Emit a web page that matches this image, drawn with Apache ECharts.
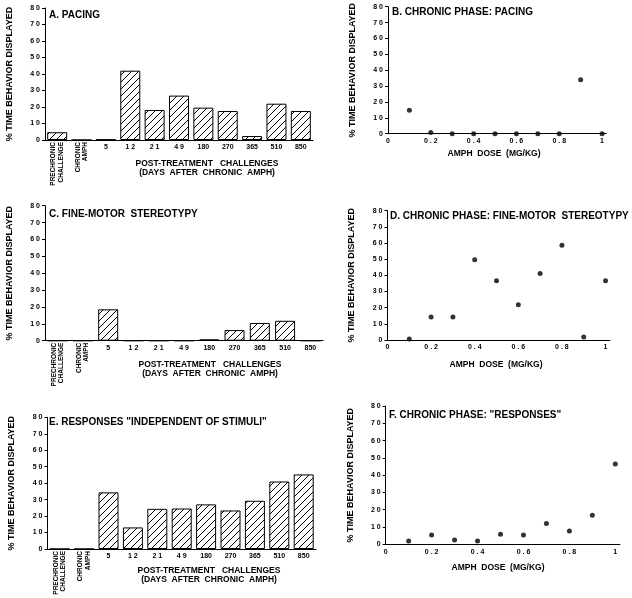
<!DOCTYPE html>
<html><head><meta charset="utf-8">
<script src="https://cdn.jsdelivr.net/npm/echarts@6/dist/echarts.min.js"></script>
<style>html,body{margin:0;padding:0;background:#fff}#c{width:632px;height:598px}</style>
</head><body><div id="c"></div>
<script>
// ---- data ----
const categories = ['PRECHRONIC\nCHALLENGE', 'CHRONIC\nAMPH', '5', '1 2', '2 1', '4 9', '180', '270', '365', '510', '850'];
const pacingBars = [4.7, 0, 0.3, 42, 18.2, 26.9, 19.6, 17.6, 2.4, 22, 17.6];
const fineMotorBars = [0, 0, 18.6, 0, 0, 0, 0.8, 6.3, 10.5, 11.8, 0];
const responsesBars = [0, 0, 34.4, 13.1, 24.4, 24.6, 27.1, 23.4, 29.3, 41, 45.3];
const doses = [0.1, 0.2, 0.3, 0.4, 0.5, 0.6, 0.7, 0.8, 0.9, 1.0];
const pacingDose = [14.7, 0.8, 0, 0, 0, 0, 0, 0, 34, 0];
const fineMotorDose = [0.6, 14.2, 14.2, 49.6, 36.6, 21.8, 41.2, 58.6, 1.9, 36.6];
const responsesDose = [1.9, 5.4, 2.5, 1.9, 5.8, 5.4, 12.1, 7.7, 16.8, 46.4];
const panelTitles = ['A. PACING', 'B. CHRONIC PHASE: PACING', 'C. FINE-MOTOR  STEREOTYPY',
  'D. CHRONIC PHASE: FINE-MOTOR  STEREOTYPY', 'E. RESPONSES "INDEPENDENT OF STIMULI"', 'F. CHRONIC PHASE: "RESPONSES"'];
const yName = '% TIME BEHAVIOR DISPLAYED';
const barXName = 'POST-TREATMENT   CHALLENGES\n(DAYS  AFTER  CHRONIC  AMPH)';
const doseName = 'AMPH  DOSE  (MG/KG)';

// ---- layout ----
const FF = '"Liberation Sans", Arial, Helvetica, sans-serif';
const grids = [
  {left: 45, top: 8, width: 268, height: 132},
  {left: 388, top: 6.7, width: 218.3, height: 127},
  {left: 45, top: 205.7, width: 278, height: 135},
  {left: 387.5, top: 210.7, width: 222.4, height: 129.3},
  {left: 47.5, top: 417.3, width: 268.4, height: 131.7},
  {left: 385.7, top: 406, width: 234.2, height: 138.3}
].map(g => Object.assign({containLabel: false, outerBoundsMode: 'none'}, g));

const titlePos = [[49, 15], [392, 12.7], [49, 214], [390, 216], [49, 422.7], [389, 415]];
const barNamePos = [[207, 168], [210, 369], [209, 575]];
const doseNamePos = [[494, 154], [496, 365], [498, 568]];

function spaced(v) { return String(v).split('').join(' '); }

function hatch() {
  const c = document.createElement('canvas');
  c.width = 7; c.height = 7;
  const g = c.getContext('2d');
  g.strokeStyle = '#000'; g.lineWidth = 1;
  g.beginPath(); g.moveTo(-1, 8); g.lineTo(8, -1); g.stroke();
  return c;
}
const pattern = {image: hatch(), repeat: 'repeat'};

const xAxes = [], yAxes = [], series = [];
const barSets = [pacingBars, fineMotorBars, responsesBars];
const doseSets = [pacingDose, fineMotorDose, responsesDose];

for (let i = 0; i < 6; i++) {
  const isBar = i % 2 === 0;
  yAxes.push({
    type: 'value', gridIndex: i, min: 0, max: 80, interval: 10,
    name: yName, nameLocation: 'middle', nameRotate: 90, nameGap: 31,
    nameTextStyle: {fontFamily: FF, fontWeight: 'bold', fontSize: 9, color: '#000'},
    axisLine: {show: true, lineStyle: {color: '#000', width: 1}},
    axisTick: {show: true, inside: false, length: 3, lineStyle: {color: '#000'}},
    axisLabel: {formatter: spaced, fontFamily: FF, fontWeight: 'bold', fontSize: 7, color: '#000', margin: 5},
    splitLine: {show: false}
  });
  if (isBar) {
    const main = xAxes.length;
    xAxes.push({
      type: 'category', gridIndex: i, data: categories, position: 'bottom',
      axisLine: {lineStyle: {color: '#000', width: 1.2}},
      axisTick: {show: false},
      axisLabel: {interval: 0, margin: 4, fontFamily: FF, fontWeight: 'bold', fontSize: 7, color: '#000',
        formatter: (v, idx) => idx < 2 ? '' : v}
    });
    xAxes.push({
      type: 'category', gridIndex: i, data: categories, position: 'bottom',
      axisLine: {show: false}, axisTick: {show: false},
      axisLabel: {interval: 0, rotate: 90, margin: 2, fontFamily: FF, fontWeight: 'bold', fontSize: 6.5, lineHeight: 7.5, color: '#000',
        formatter: (v, idx) => idx < 2 ? v : ''}
    });
    series.push({
      type: 'bar', xAxisIndex: main, yAxisIndex: i, data: barSets[i / 2], barWidth: 20,
      itemStyle: {color: pattern, borderColor: '#000', borderWidth: 1},
      silent: true, animation: false
    });
  } else {
    const idx = xAxes.length;
    xAxes.push({
      type: 'value', gridIndex: i, min: 0, max: 1.02, interval: 0.2,
      axisLine: {lineStyle: {color: '#000', width: 1.2}},
      axisTick: {show: false}, splitLine: {show: false},
      axisLabel: {showMaxLabel: false, formatter: v => (Math.abs(v * 5 - Math.round(v * 5)) < 1e-6 ? spaced(+v.toFixed(1)) : ''),
        fontFamily: FF, fontWeight: 'bold', fontSize: 7, color: '#000', margin: 4}
    });
    const vals = doseSets[(i - 1) / 2];
    series.push({
      type: 'scatter', xAxisIndex: idx, yAxisIndex: i,
      data: doses.map((d, k) => [d, vals[k]]),
      symbol: 'circle', symbolSize: 5, itemStyle: {color: '#000'},
      silent: true, animation: false
    });
  }
}

const graphics = [];
titlePos.forEach((p, i) => graphics.push({type: 'text', x: p[0], y: p[1], silent: true,
  style: {text: panelTitles[i], font: 'bold 10px ' + FF, fill: '#000', textAlign: 'left', textVerticalAlign: 'middle'}}));
barNamePos.forEach(p => graphics.push({type: 'text', x: p[0], y: p[1], silent: true,
  style: {text: barXName, font: 'bold 8.5px ' + FF, fill: '#000', textAlign: 'center', textVerticalAlign: 'middle', lineHeight: 9.5}}));
doseNamePos.forEach(p => graphics.push({type: 'text', x: p[0], y: p[1], silent: true,
  style: {text: doseName, font: 'bold 8.5px ' + FF, fill: '#000', textAlign: 'center', textVerticalAlign: 'middle'}}));

const chart = echarts.init(document.getElementById('c'), null, {renderer: 'canvas'});
chart.setOption({
  backgroundColor: '#fff', animation: false,
  grid: grids, xAxis: xAxes, yAxis: yAxes, series: series, graphic: graphics
});
</script></body></html>
